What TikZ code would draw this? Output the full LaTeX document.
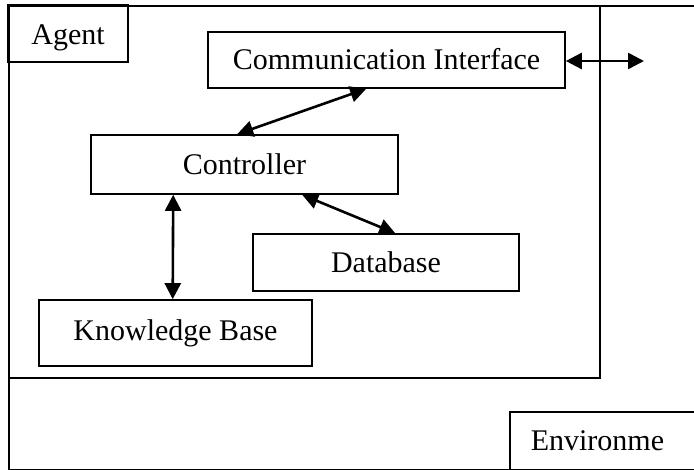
\documentclass[tikz,border=0pt]{standalone}
\usepackage{fontspec}
\setmainfont{Liberation Serif}
\usetikzlibrary{arrows.meta,calc}
\begin{document}
\begin{tikzpicture}[x=1pt,y=-1pt,
  frame/.style={draw, line width=1.8pt, inner sep=0pt},
  box/.style={draw, line width=1.6pt, inner sep=0pt,
    font=\fontsize{30}{36}\selectfont, text height=23pt, text depth=3pt},
  link/.style={line width=2.6pt,
    {Triangle[length=16pt,width=16pt]}-{Triangle[length=16pt,width=16pt]}}]
\clip (0,0) rectangle (694,470);
\fill[white] (0,0) rectangle (694,470);

% environment frame, open to the right
\node[frame, anchor=north west, minimum width=720, minimum height=464] (world) at (8,5) {};
\node[box, anchor=north west, minimum width=220, minimum height=58,
  text width=178pt, inner xsep=21pt, align=left] (env) at (509,411) {Environme};

% agent frame and its label
\node[frame, anchor=north west, minimum width=591, minimum height=372] (agent) at (8,5) {};
\node[box, minimum width=120, minimum height=57, text height=24pt, text depth=2pt] (agentlabel) at (68,33.5) {Agent};

% components
\node[box, minimum width=357, minimum height=56] (comm) at (386.5,60) {Communication Interface};
\node[box, minimum width=307, minimum height=59] (ctrl) at (244.5,164.5) {Controller};
\node[box, minimum width=266, minimum height=57] (db) at (386,262.5) {Database};
\node[box, minimum width=273, minimum height=66, text height=21pt, text depth=5pt] (kb) at (175.5,333) {Knowledge Base};

\coordinate (out) at (644,61);

% connectors
\draw[link] ($(comm.south west)+(159,0)$) -- ($(ctrl.north west)+(147,0)$);
\draw[link] (comm.east |- out) -- (out);
\draw[link] ($(ctrl.south west)+(212,0)$) -- ($(db.north west)+(143,0)$);
\draw[link] ($(ctrl.south west)+(83,0)$) -- ($(kb.north west)+(134.5,0)$);
\end{tikzpicture}
\end{document}
